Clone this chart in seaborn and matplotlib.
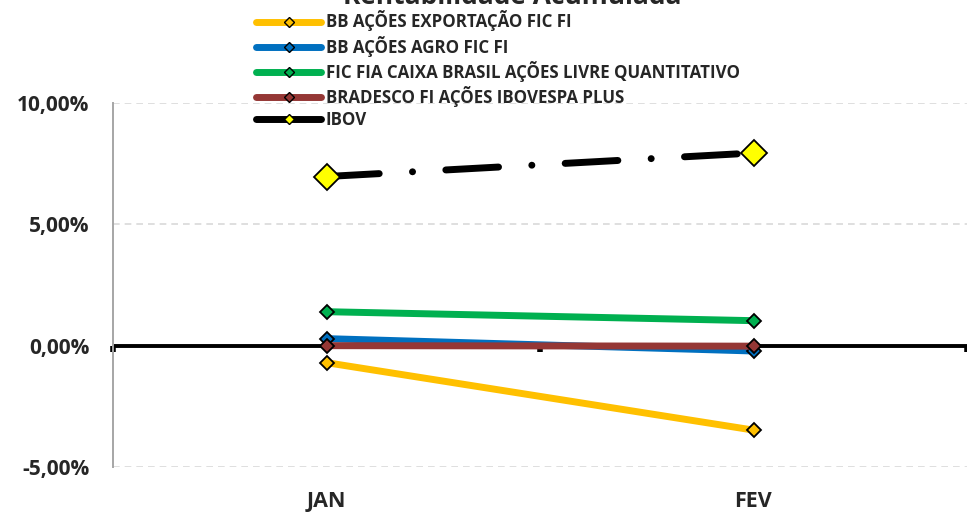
import numpy as np
import pandas as pd
import matplotlib
matplotlib.use("Agg")
import matplotlib.pyplot as plt
from matplotlib.lines import Line2D
from matplotlib.ticker import FuncFormatter
import seaborn as sns

# =====================================
# Data
# =====================================

months = ["JAN", "FEV"]

series_names = [
    "BB AÇÕES EXPORTAÇÃO FIC FI",
    "BB AÇÕES AGRO FIC FI",
    "FIC FIA CAIXA BRASIL AÇÕES LIVRE QUANTITATIVO",
    "BRADESCO FI AÇÕES IBOVESPA PLUS",
    "IBOV",
]

bb_exportacao = [-0.70, -3.48]
bb_agro = [0.29, -0.22]
caixa_livre = [1.40, 1.03]
bradesco_plus = [0.00, -0.02]
ibov = [6.97, 7.94]

colors = ["#FFC000", "#0070C0", "#00B050", "#953735", "#000000"]
marker_faces = ["#FFC000", "#0070C0", "#00B050", "#953735", "#FFFF00"]

yticks = [-5, 0, 5, 10]

# =====================================
# Long table for seaborn
# =====================================

values = [bb_exportacao, bb_agro, caixa_livre, bradesco_plus, ibov]
df = pd.DataFrame({
    "Mes": months * len(series_names),
    "Serie": np.repeat(series_names, len(months)),
    "Valor": np.concatenate(values),
})

# =====================================
# Plot
# =====================================

sns.set_style("white")
plt.rcParams["font.family"] = ["Open Sans", "DejaVu Sans"]
plt.rcParams["font.weight"] = "bold"

fig = plt.figure(figsize=(9.67, 5.13), dpi=100)
ax = fig.add_axes([113 / 967, 1 - 467 / 513, 1 - 113 / 967, (467 - 103) / 513])

lw = 5.0
ibov_dash = (0, (7.6, 4.8, 0.01, 4.8))

# zero line with category boundary ticks
ax.axhline(0, color="black", linewidth=2.8, zorder=2)
zero_ax = ax.secondary_xaxis(1 / 3)
zero_ax.spines["bottom"].set_visible(False)
zero_ax.set_xticks([-0.5, 0.5, 1.5])
zero_ax.tick_params(axis="x", length=4, width=4, color="black", labelbottom=False)

for i, name in enumerate(series_names):
    sub = df[df["Serie"] == name]
    is_ibov = name == "IBOV"
    sns.lineplot(
        data=sub,
        x="Mes",
        y="Valor",
        ax=ax,
        color=colors[i],
        linewidth=lw,
        marker="D",
        markersize=13 if is_ibov else 7.5,
        markerfacecolor=marker_faces[i],
        markeredgecolor="black",
        markeredgewidth=1.3,
        solid_capstyle="round",
        dash_capstyle="round",
        zorder=3 + i,
        legend=False,
    )
    if is_ibov:
        ax.lines[-1].set_linestyle(ibov_dash)

ax.set_xlim(-0.5, 1.5)
ax.set_ylim(-5, 10)
ax.set_yticks(yticks)
ax.yaxis.set_major_formatter(
    FuncFormatter(lambda v, p: f"{v:.2f}%".replace(".", ","))
)
ax.grid(axis="y", color="#D9D9D9", linestyle=(0, (4, 3)), linewidth=1.2)
ax.grid(axis="x", visible=False)

for side in ["top", "right", "bottom"]:
    ax.spines[side].set_visible(False)
ax.spines["left"].set_color("#A6A6A6")
ax.spines["left"].set_linewidth(1.4)

ax.tick_params(axis="y", length=6, width=1.2, color="#A6A6A6", labelsize=15, pad=11)
ax.tick_params(axis="x", length=0, labelsize=15.5, pad=17.5)
for lab in ax.get_xticklabels() + ax.get_yticklabels():
    lab.set_fontweight("bold")
ax.set_xlabel("")
ax.set_ylabel("")

# =====================================
# Legend
# =====================================

handles = []
for i, name in enumerate(series_names):
    handles.append(Line2D(
        [0], [0],
        color=colors[i],
        linewidth=lw,
        solid_capstyle="round",
        marker="D",
        markersize=5,
        markerfacecolor=marker_faces[i],
        markeredgecolor="black",
        markeredgewidth=1.0,
    ))

leg = fig.legend(
    handles,
    series_names,
    loc="upper left",
    bbox_to_anchor=(248 / 967, 1 - 2 / 513),
    frameon=False,
    handlelength=3.8,
    handletextpad=0.3,
    labelspacing=0.24,
    borderpad=0,
    prop={"size": 12.2, "weight": "bold"},
)
leg.set_zorder(20)

# title (cut by the top edge in the original)
fig.text(0.53, 1 - 4 / 513, "Rentabilidade Acumulada", ha="center", va="baseline",
         fontsize=19, fontweight="bold")

plt.savefig("out.png", dpi=100)
plt.close()
